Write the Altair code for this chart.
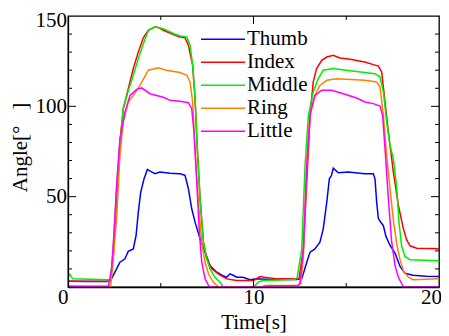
import altair as alt
import pandas as pd

fingers = ["Thumb", "Index", "Middle", "Ring", "Little"]
colors = ["#0000ff", "#ff0000", "#00ee00", "#ff8000", "#ff00ff"]

thumb_t = [0, 1, 2.1, 2.3, 2.53, 2.8, 3.07, 3.25, 3.52, 3.67, 3.79, 3.92, 4.1, 4.28, 4.45, 4.69, 4.96, 5.5, 6.04, 6.31, 6.49, 6.67, 6.85, 7.12, 7.39, 7.65, 8.02, 8.3, 8.55, 8.73, 8.9, 9.1, 9.43, 9.81, 10.17, 10.9, 12.33, 12.6, 12.87, 13.05, 13.31, 13.58, 13.76, 13.95, 14.09, 14.2, 14.3, 14.57, 15.1, 16.0, 16.46, 16.55, 16.64, 16.73, 16.85, 17.0, 17.14, 17.36, 17.63, 17.9, 18.17, 18.6, 19.3, 20]
thumb_v = [3.2, 3.1, 3.0, 3.5, 8.2, 13.7, 15.6, 19.8, 21.1, 28.5, 41.4, 52.5, 59.9, 65.1, 64.0, 62.7, 63.6, 63.0, 62.7, 61.8, 54.4, 43.3, 35.9, 26.7, 19.3, 11.9, 8.2, 6.5, 5.4, 7.3, 6.5, 5.4, 5.4, 4.0, 4.5, 4.2, 4.2, 4.5, 13.7, 19.3, 21.1, 24.8, 32.2, 47.0, 59.9, 61.7, 65.8, 63.2, 63.6, 62.7, 62.7, 59.9, 47.0, 38.0, 36.0, 34.0, 28.0, 23.0, 18.7, 11.4, 7.6, 6.5, 6.0, 5.8]

index_t = [0, 2.2, 2.3, 2.44, 2.62, 2.8, 2.98, 3.25, 3.52, 3.79, 4.06, 4.33, 4.69, 4.9, 5.14, 5.68, 6.04, 6.31, 6.49, 6.72, 6.85, 6.97, 7.12, 7.3, 7.48, 7.75, 8.1, 8.55, 9.09, 10.0, 10.35, 10.6, 11.3, 12.33, 12.45, 12.69, 12.87, 13.05, 13.22, 13.4, 13.68, 13.95, 14.3, 14.66, 15.2, 16.0, 16.46, 16.73, 16.91, 17.09, 17.27, 17.54, 17.81, 18.08, 18.26, 18.44, 18.8, 20]
index_v = [3.2, 3.2, 4.0, 17.5, 48.9, 80.2, 98.7, 109.8, 120.9, 130.0, 137.9, 142.1, 144.0, 143.5, 142.1, 139.7, 138.4, 137.9, 133.8, 122.7, 104.3, 76.6, 48.9, 24.8, 15.6, 10.1, 7.3, 4.5, 3.6, 3.6, 5.8, 5.4, 4.5, 4.5, 4.3, 21.1, 58.0, 95.0, 113.5, 120.9, 125.5, 127.3, 128.3, 126.8, 126.0, 124.5, 123.1, 122.3, 119.0, 102.4, 85.8, 63.6, 45.2, 32.2, 26.1, 22.8, 21.5, 21.2]

middle_t = [0, 0.1, 0.25, 2.2, 2.3, 2.44, 2.62, 2.8, 2.98, 3.25, 3.52, 3.79, 4.06, 4.33, 4.69, 5.14, 5.68, 6.04, 6.4, 6.58, 6.72, 6.85, 6.97, 7.12, 7.3, 7.48, 7.65, 7.92, 8.19, 8.37, 10.0, 10.26, 10.5, 12.2, 12.35, 12.6, 12.78, 12.96, 13.22, 13.49, 13.76, 14.3, 15.0, 16.0, 16.55, 16.82, 17.0, 17.18, 17.36, 17.54, 17.72, 17.85, 17.99, 18.17, 18.44, 20]
middle_v = [5.8, 7.0, 4.5, 4.0, 5.0, 21.3, 54.6, 80.0, 98.7, 108.7, 117.2, 126.4, 134.7, 142.0, 144.0, 143.0, 140.3, 139.0, 138.4, 133.8, 122.7, 104.3, 76.6, 48.9, 24.8, 15.6, 10.1, 5.4, 2.7, 0.0, 0.0, 2.7, 3.6, 4.1, 5.0, 21.0, 67.3, 95.0, 108.0, 115.3, 120.0, 120.9, 120.0, 118.7, 118.1, 116.2, 108.0, 91.3, 78.4, 71.0, 55.0, 35.0, 22.4, 16.9, 15.1, 14.5]

ring_t = [0, 2.3, 2.4, 2.63, 2.8, 2.98, 3.25, 3.52, 3.88, 4.33, 4.87, 5.3, 6.04, 6.4, 6.58, 6.72, 6.85, 7.03, 7.21, 7.39, 7.57, 7.83, 8.1, 10.4, 10.6, 12.4, 12.55, 12.69, 12.87, 13.05, 13.31, 13.58, 13.95, 14.49, 16.0, 16.64, 16.82, 17.0, 17.18, 17.36, 17.54, 17.72, 17.9, 18.08, 18.35, 18.6, 20]
ring_v = [0.5, 0.5, 10.0, 39.6, 72.9, 91.3, 102.4, 106.0, 111.6, 120.0, 121.4, 120.0, 118.7, 117.2, 113.5, 102.4, 76.6, 47.0, 24.8, 13.7, 7.3, 2.7, 0.0, 0.0, 0.8, 1.0, 2.0, 17.5, 67.3, 96.8, 106.0, 111.6, 114.4, 115.3, 114.4, 113.5, 110.7, 95.0, 72.9, 54.4, 37.0, 24.0, 15.0, 9.0, 5.4, 4.0, 4.5]

little_t = [0, 2.17, 2.35, 2.48, 2.63, 2.8, 3.07, 3.34, 3.7, 3.97, 4.42, 5.14, 5.5, 6.04, 6.49, 6.67, 6.79, 6.94, 7.08, 7.21, 7.39, 7.62, 10.6, 10.8, 12.4, 12.5, 12.69, 12.87, 13.05, 13.31, 13.68, 14.22, 14.84, 15.56, 16.01, 16.46, 16.82, 16.96, 17.09, 17.27, 17.45, 17.63, 17.81, 18.08, 20]
little_v = [0.3, 0.0, 10.0, 30.0, 58.0, 82.0, 96.8, 106.0, 109.4, 110.2, 107.0, 105.0, 103.3, 102.8, 102.0, 98.7, 85.8, 58.0, 30.4, 13.7, 4.5, 0.0, 0.0, 0.5, 0.6, 2.0, 21.0, 67.0, 95.0, 106.0, 108.9, 108.9, 107.0, 104.6, 102.4, 101.5, 100.2, 95.0, 76.6, 48.9, 24.8, 11.9, 5.4, 0.0, 0.0]

x_labels = [0, 10, 20]
y_labels = [50, 100, 150]
x_minor = [5, 15]
x_major = [10]
y_minor = [10, 20, 30, 40, 60, 70, 80, 90, 110, 120, 130, 140]
y_major = [50, 100]

series = [
    ("Thumb", thumb_t, thumb_v),
    ("Index", index_t, index_v),
    ("Middle", middle_t, middle_v),
    ("Ring", ring_t, ring_v),
    ("Little", little_t, little_v),
]
rows = []
for name, ts, vs in series:
    for t, v in zip(ts, vs):
        rows.append({"finger": name, "time": t, "angle": v})
df = pd.DataFrame(rows)

W, H = 371, 271
FONT = "Liberation Serif"

x_scale = alt.Scale(domain=[0, 20], nice=False, zero=False)
y_scale = alt.Scale(domain=[0, 150], nice=False, zero=False)

x_axis = alt.Axis(
    values=x_labels, title="Time[s]", ticks=False, tickSize=0, grid=False,
    domain=True, domainColor="black", domainWidth=1.3, zindex=1,
    labelFont=FONT, labelFontSize=21, labelColor="black",
    labelBaseline="alphabetic", labelPadding=16.5, labelFlush=False,
    labelAlign={"condition": {"test": "datum.value == 0", "value": "right"}, "value": "center"},
    labelOffset={"condition": {"test": "datum.value == 20", "value": -8}, "value": 0},
    titleFont=FONT, titleFontSize=21, titleFontWeight="normal", titleColor="black",
    titleBaseline="alphabetic", titleY=41, titleX=W / 2,
)
y_axis = alt.Axis(
    values=y_labels, title="Angle[°\u00a0\u00a0\u00a0]", ticks=False, tickSize=0, grid=False,
    domain=True, domainColor="black", domainWidth=1.3, zindex=1,
    labelFont=FONT, labelFontSize=21, labelColor="black", labelPadding=1.5,
    labelFlush=False,
    labelOffset={"condition": {"test": "datum.value == 150", "value": 4}, "value": 0},
    titleFont=FONT, titleFontSize=21, titleFontWeight="normal", titleColor="black",
    titleAngle=270, titleBaseline="alphabetic", titleAlign="center",
    titleX=-42, titleY=131,
)

lines = alt.Chart(df).mark_line(strokeWidth=1.5, clip=True).encode(
    x=alt.X("time:Q", scale=x_scale, axis=x_axis),
    y=alt.Y("angle:Q", scale=y_scale, axis=y_axis),
    color=alt.Color(
        "finger:N",
        scale=alt.Scale(domain=fingers, range=colors),
        sort=fingers,
        legend=alt.Legend(
            title=None, orient="none", legendX=132, legendY=12,
            symbolType="stroke", symbolSize=1936, symbolStrokeWidth=1.5,
            labelFont=FONT, labelFontSize=21, labelColor="black",
            clipHeight=22.7, rowPadding=0, padding=0, labelOffset=1,
            symbolOffset=0,
        ),
    ),
    detail="finger:N",
)


def yticks(vals, x1, x2):
    d = pd.DataFrame({"angle": vals})
    return alt.Chart(d).mark_rule(color="black", strokeWidth=1).encode(
        y=alt.Y("angle:Q", scale=y_scale, axis=y_axis),
        x=alt.value(x1), x2=alt.value(x2),
    )


def xticks(vals, y1, y2):
    d = pd.DataFrame({"time": vals})
    return alt.Chart(d).mark_rule(color="black", strokeWidth=1).encode(
        x=alt.X("time:Q", scale=x_scale, axis=x_axis),
        y=alt.value(y1), y2=alt.value(y2),
    )


layers = [
    lines,
    yticks(y_major, 0, 8), yticks(y_minor, 0, 4),
    yticks(y_major, W, W - 8), yticks(y_minor, W, W - 4),
    xticks(x_major, H, H - 8), xticks(x_minor, H, H - 4),
    xticks(x_major, 0, 8), xticks(x_minor, 0, 4),
]

chart = alt.layer(*layers).properties(
    width=W, height=H,
    autosize="none",
    padding={"left": 60, "top": 8, "right": 2, "bottom": 47},
    background="white",
).configure_view(stroke="black", strokeWidth=1.3)

chart.save("out.html", embed_options={"renderer": "svg", "actions": False})
